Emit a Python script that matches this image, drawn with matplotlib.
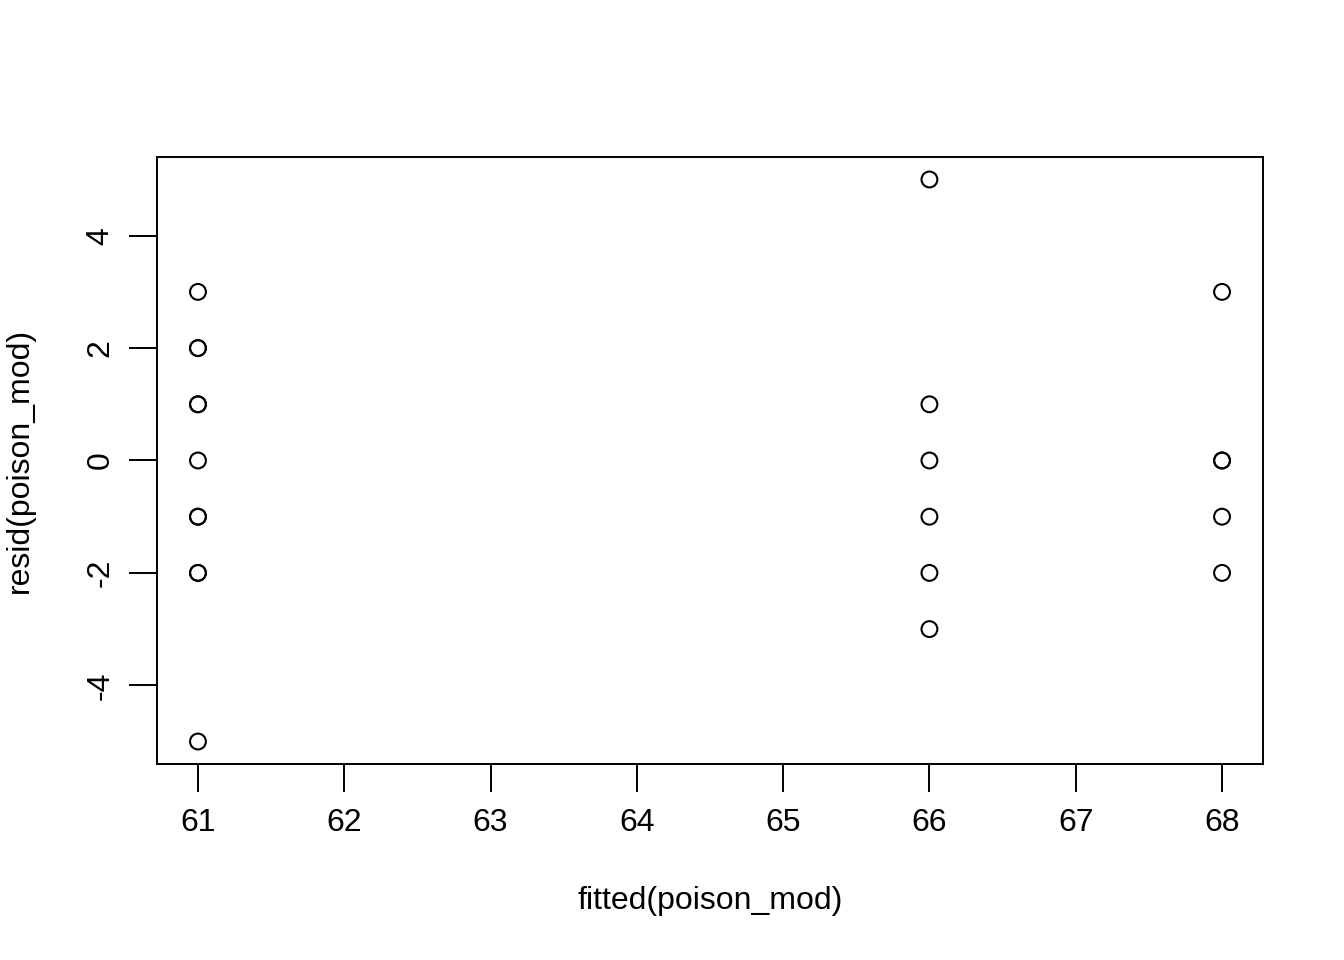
import matplotlib
matplotlib.use("Agg")
import matplotlib.pyplot as plt

# datos (puntos repetidos se ven mas gruesos)
fitted_vals = [61, 61, 61, 61, 61, 61, 61, 61, 61, 61, 61,
               66, 66, 66, 66, 66, 66,
               68, 68, 68, 68, 68]
resid_vals = [3, 2, 2, 1, 1, 0, -1, -1, -2, -2, -5,
              5, 1, 0, -1, -2, -3,
              3, 0, 0, -1, -2]
x_ticks = [61, 62, 63, 64, 65, 66, 67, 68]
y_ticks = [-4, -2, 0, 2, 4]

plt.rcParams["font.family"] = ["Liberation Sans", "DejaVu Sans"]

fig = plt.figure(figsize=(13.44, 9.6), dpi=100)
ax = fig.add_axes([157 / 1344, 1 - 764 / 960, (1263 - 157) / 1344, (764 - 157) / 960])

ax.scatter(fitted_vals, resid_vals, s=130, facecolors="none", edgecolors="black",
           linewidths=1.5)

ax.set_xlim(60.72, 68.28)
ax.set_ylim(-5.4, 5.4)
ax.set_xticks(x_ticks)
ax.set_yticks(y_ticks)
ax.set_xticklabels([str(v) for v in x_ticks], fontsize=23)
ax.set_yticklabels([str(v) for v in y_ticks], fontsize=23, rotation=90, va="center")
ax.tick_params(axis="both", length=20, width=1.4, color="black")
ax.tick_params(axis="x", pad=12)
ax.tick_params(axis="y", pad=10)

for s in ax.spines.values():
    s.set_linewidth(1.4)

ax.set_xlabel("fitted(poison_mod)", fontsize=23, labelpad=34)
ax.set_ylabel("resid(poison_mod)", fontsize=23, labelpad=36)

fig.savefig("out.png", dpi=100)
